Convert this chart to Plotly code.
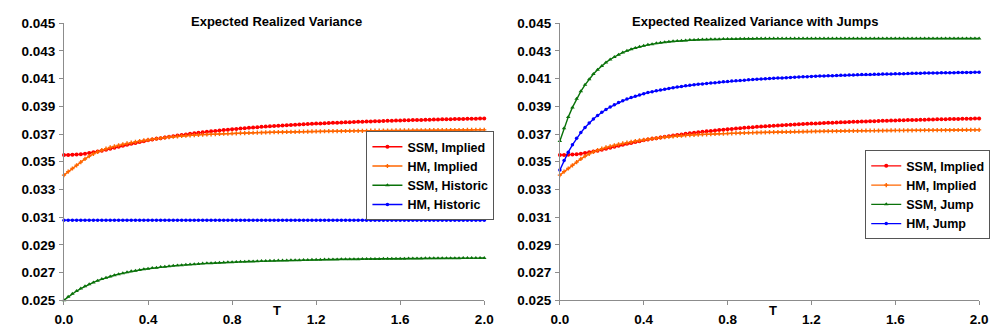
import plotly.graph_objects as go

# Maturity grid (years)
T = [round(0.02 * i, 2) for i in range(101)]

SSM_IMPLIED = [
    0.03548, 0.035485, 0.035495, 0.035515, 0.03554, 0.03558, 0.035625, 0.035675, 0.03573, 0.03579,
    0.03586, 0.035932, 0.036004, 0.036076, 0.036148, 0.03622, 0.03629, 0.036356, 0.03642, 0.036481,
    0.03654, 0.036596, 0.03665, 0.036702, 0.036752, 0.0368, 0.036845, 0.036888, 0.03693, 0.036971,
    0.03701, 0.037048, 0.037085, 0.037121, 0.037156, 0.03719, 0.037222, 0.037253, 0.037283, 0.037312,
    0.03734, 0.037367, 0.037393, 0.037419, 0.037445, 0.03747, 0.037493, 0.037515, 0.037537, 0.037559,
    0.03758, 0.037599, 0.037617, 0.037635, 0.037653, 0.03767, 0.037686, 0.037702, 0.037718, 0.037734,
    0.03775, 0.037764, 0.037778, 0.037792, 0.037806, 0.03782, 0.037832, 0.037844, 0.037856, 0.037868,
    0.03788, 0.03789, 0.0379, 0.03791, 0.03792, 0.03793, 0.03794, 0.03795, 0.03796, 0.03797,
    0.03798, 0.037988, 0.037996, 0.038004, 0.038012, 0.03802, 0.038028, 0.038036, 0.038044, 0.038052,
    0.03806, 0.038066, 0.038072, 0.038078, 0.038084, 0.03809, 0.038096, 0.038102, 0.038108, 0.038114,
    0.03812,
]

HM_IMPLIED = [
    0.03403, 0.03428, 0.03451, 0.03474, 0.03497, 0.0352, 0.0354, 0.03557, 0.03571, 0.03583,
    0.03594, 0.03603, 0.03611, 0.036185, 0.036255, 0.03632, 0.03638, 0.036435, 0.036487, 0.036535,
    0.03658, 0.036623, 0.036663, 0.036701, 0.036737, 0.03677, 0.036801, 0.036829, 0.036855, 0.036879,
    0.0369, 0.036919, 0.036936, 0.036952, 0.036967, 0.03698, 0.036993, 0.037005, 0.037017, 0.037029,
    0.03704, 0.03705, 0.03706, 0.03707, 0.03708, 0.03709, 0.037098, 0.037106, 0.037114, 0.037122,
    0.03713, 0.037136, 0.037142, 0.037148, 0.037154, 0.03716, 0.037166, 0.037172, 0.037178, 0.037184,
    0.03719, 0.037194, 0.037198, 0.037202, 0.037206, 0.03721, 0.037214, 0.037218, 0.037222, 0.037226,
    0.03723, 0.037233, 0.037236, 0.037239, 0.037242, 0.037245, 0.037248, 0.037251, 0.037254, 0.037257,
    0.03726, 0.037262, 0.037264, 0.037266, 0.037268, 0.03727, 0.037272, 0.037274, 0.037276, 0.037278,
    0.03728, 0.037282, 0.037284, 0.037286, 0.037288, 0.03729, 0.037292, 0.037294, 0.037296, 0.037298,
    0.0373,
]

SSM_HISTORIC = [
    0.025, 0.02524, 0.02546, 0.02566, 0.02584, 0.026, 0.02615, 0.02628, 0.02641, 0.02652,
    0.02662, 0.02671, 0.0268, 0.02688, 0.02695, 0.02702, 0.02708, 0.02713, 0.02718, 0.02723,
    0.02727, 0.02732, 0.02735, 0.02739, 0.02742, 0.02745, 0.02748, 0.02751, 0.02753, 0.02756,
    0.02758, 0.0276, 0.02762, 0.02764, 0.02766, 0.02767, 0.02769, 0.0277, 0.02772, 0.02773,
    0.02774, 0.02776, 0.02777, 0.02778, 0.02779, 0.0278, 0.02781, 0.02782, 0.02783, 0.02784,
    0.02785, 0.02786, 0.02786, 0.02787, 0.02788, 0.02788, 0.02789, 0.0279, 0.0279, 0.02791,
    0.02792, 0.02792, 0.02793, 0.02793, 0.02794, 0.02794, 0.02795, 0.02795, 0.02796, 0.02796,
    0.02796, 0.02797, 0.02797, 0.02798, 0.02798, 0.02798, 0.02799, 0.02799, 0.02799, 0.028,
    0.028, 0.028, 0.02801, 0.02801, 0.02801, 0.02801, 0.02802, 0.02802, 0.02802, 0.02802,
    0.02803, 0.02803, 0.02803, 0.02803, 0.02803, 0.02804, 0.02804, 0.02804, 0.02804, 0.02804,
    0.02805,
]

# Historic HM variance is flat across maturities
HM_HISTORIC = [0.03078] * len(T)

SSM_JUMP = [
    0.0365, 0.03742, 0.03822, 0.03892, 0.03954, 0.04008, 0.04055, 0.04096, 0.04133, 0.04164,
    0.04192, 0.04217, 0.04238, 0.04257, 0.04273, 0.04288, 0.04301, 0.04312, 0.04321, 0.0433,
    0.04337, 0.04344, 0.04349, 0.04355, 0.04359, 0.04363, 0.04366, 0.04369, 0.04372, 0.04374,
    0.04376, 0.04378, 0.04379, 0.04381, 0.04382, 0.04383, 0.04384, 0.04384, 0.04385, 0.04386,
    0.04386, 0.04387, 0.04387, 0.04388, 0.04388, 0.04388, 0.04388, 0.04389, 0.04389, 0.04389,
    0.04389, 0.04389, 0.04389, 0.04389, 0.04389, 0.04389, 0.0439, 0.0439, 0.0439, 0.0439,
    0.0439, 0.0439, 0.0439, 0.0439, 0.0439, 0.0439, 0.0439, 0.0439, 0.0439, 0.0439,
    0.0439, 0.0439, 0.0439, 0.0439, 0.0439, 0.0439, 0.0439, 0.0439, 0.0439, 0.0439,
    0.0439, 0.0439, 0.0439, 0.0439, 0.0439, 0.0439, 0.0439, 0.0439, 0.0439, 0.0439,
    0.0439, 0.0439, 0.0439, 0.0439, 0.0439, 0.0439, 0.0439, 0.0439, 0.0439, 0.0439,
    0.0439,
]

HM_JUMP = [
    0.0344, 0.03509, 0.03569, 0.03622, 0.03669, 0.0371, 0.03747, 0.03779, 0.03808, 0.03834,
    0.03857, 0.03877, 0.03895, 0.03912, 0.03927, 0.0394, 0.03952, 0.03963, 0.03973, 0.03982,
    0.03991, 0.03999, 0.04006, 0.04012, 0.04018, 0.04024, 0.04029, 0.04034, 0.04039, 0.04043,
    0.04048, 0.04052, 0.04055, 0.04059, 0.04062, 0.04065, 0.04068, 0.04071, 0.04074, 0.04077,
    0.04079, 0.04082, 0.04084, 0.04086, 0.04089, 0.04091, 0.04093, 0.04095, 0.04097, 0.04099,
    0.041, 0.04102, 0.04104, 0.04105, 0.04107, 0.04108, 0.0411, 0.04111, 0.04113, 0.04114,
    0.04116, 0.04117, 0.04118, 0.04119, 0.0412, 0.04121, 0.04123, 0.04124, 0.04125, 0.04126,
    0.04127, 0.04128, 0.04129, 0.0413, 0.0413, 0.04131, 0.04132, 0.04133, 0.04134, 0.04134,
    0.04135, 0.04136, 0.04136, 0.04137, 0.04138, 0.04138, 0.04139, 0.0414, 0.0414, 0.04141,
    0.04141, 0.04142, 0.04142, 0.04143, 0.04143, 0.04144, 0.04144, 0.04145, 0.04145, 0.04146,
    0.04146,
]

X_TICKS = [0.0, 0.4, 0.8, 1.2, 1.6, 2.0]
Y_TICKS = [0.025, 0.027, 0.029, 0.031, 0.033, 0.035, 0.037, 0.039, 0.041, 0.043, 0.045]

TITLE_LEFT = "Expected Realized Variance"
TITLE_RIGHT = "Expected Realized Variance with Jumps"

RED = "#ff0000"
ORANGE = "#ff6600"
GREEN = "#0a720a"
BLUE = "#0000ff"

FONT = "Liberation Sans, Arial, sans-serif"
W, H = 996, 333


def series(y, name, color, symbol, size, xa, ya, legend):
    return go.Scatter(
        x=T, y=y, name=name, mode="lines+markers",
        line=dict(color=color, width=1.4),
        marker=dict(color=color, size=size, symbol=symbol, line=dict(width=0)),
        xaxis=xa, yaxis=ya, legend=legend, cliponaxis=False,
    )


fig = go.Figure()
# left panel
fig.add_trace(series(SSM_IMPLIED, "SSM, Implied", RED, "circle", 4, "x", "y", "legend"))
fig.add_trace(series(HM_IMPLIED, "HM, Implied", ORANGE, "cross", 3.5, "x", "y", "legend"))
fig.add_trace(series(SSM_HISTORIC, "SSM, Historic", GREEN, "triangle-up", 4, "x", "y", "legend"))
fig.add_trace(series(HM_HISTORIC, "HM, Historic", BLUE, "circle", 3.5, "x", "y", "legend"))
# right panel
fig.add_trace(series(SSM_IMPLIED, "SSM, Implied", RED, "circle", 4, "x2", "y2", "legend2"))
fig.add_trace(series(HM_IMPLIED, "HM, Implied", ORANGE, "cross", 3.5, "x2", "y2", "legend2"))
fig.add_trace(series(SSM_JUMP, "SSM, Jump", GREEN, "triangle-up", 4, "x2", "y2", "legend2"))
fig.add_trace(series(HM_JUMP, "HM, Jump", BLUE, "circle", 3.5, "x2", "y2", "legend2"))

tick_font = dict(family=FONT, size=13.5, color="black", weight="bold")
y_dom = [26 / H, 316 / H]


def xaxis(domain, anchor):
    return dict(
        domain=domain, anchor=anchor, range=[0, 2], tickvals=X_TICKS, tickformat=".1f",
        showline=True, linecolor="#8c8c8c", linewidth=1, ticks="outside", ticklen=4,
        tickcolor="#8c8c8c", showgrid=False, zeroline=False, tickfont=tick_font,
        ticklabelstandoff=3, fixedrange=True,
    )


def yaxis(anchor):
    return dict(
        domain=y_dom, anchor=anchor, range=[0.025, 0.045], tickvals=Y_TICKS, tickformat=".3f",
        showline=True, linecolor="#8c8c8c", linewidth=1, ticks="outside", ticklen=4,
        tickcolor="#8c8c8c", showgrid=False, zeroline=False, tickfont=tick_font,
        ticklabelstandoff=1, fixedrange=True,
    )


legend_common = dict(
    xanchor="left", yanchor="top", bgcolor="white", bordercolor="#555555", borderwidth=1,
    font=dict(family=FONT, size=12.5, color="black", weight="bold"), tracegroupgap=0,
    itemwidth=30,
)

ann_font = dict(family=FONT, size=13, color="black", weight="bold")
annotations = [
    dict(text=TITLE_LEFT, x=272 / W, y=1 - 15 / H, xref="paper", yref="paper",
         xanchor="center", yanchor="middle", showarrow=False, font=ann_font),
    dict(text=TITLE_RIGHT, x=760 / W, y=1 - 15 / H, xref="paper", yref="paper",
         xanchor="center", yanchor="middle", showarrow=False, font=ann_font),
    dict(text="T", x=273 / W, y=1 - 318 / H, xref="paper", yref="paper",
         xanchor="center", yanchor="middle", showarrow=False, font=ann_font),
    dict(text="T", x=778 / W, y=1 - 318 / H, xref="paper", yref="paper",
         xanchor="center", yanchor="middle", showarrow=False, font=ann_font),
]

fig.update_layout(
    width=W, height=H, margin=dict(l=0, r=0, t=0, b=0),
    paper_bgcolor="white", plot_bgcolor="white",
    xaxis=xaxis([56 / W, 484 / W], "y"),
    yaxis=yaxis("x"),
    xaxis2=xaxis([561 / W, 988 / W], "y2"),
    yaxis2=yaxis("x2"),
    legend=dict(x=364 / W, y=1 - 130 / H, **legend_common),
    legend2=dict(x=872 / W, y=1 - 150 / H, **legend_common),
    annotations=annotations,
    showlegend=True,
)

fig.write_html("out.html")
